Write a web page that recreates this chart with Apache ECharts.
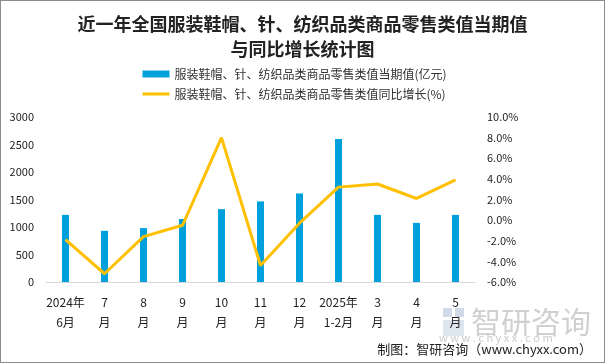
<!DOCTYPE html>
<html><head><meta charset="utf-8">
<script src="https://cdn.jsdelivr.net/npm/echarts@6/dist/echarts.min.js"></script>
<style>html,body{margin:0;padding:0;background:#fff}#c{width:605px;height:363px;box-sizing:border-box;border:1px solid #8c8c8c}</style>
</head><body><div id="c"></div>
<script>
const categories = ['2024年\n6月','7\n月','8\n月','9\n月','10\n月','11\n月','12\n月','2025年\n1-2月','3\n月','4\n月','5\n月'];
const retailValue = [1220, 930, 980, 1145, 1325, 1465, 1610, 2600, 1220, 1075, 1220];
const yoyGrowth = [-1.9, -5.2, -1.6, -0.5, 8.0, -4.4, -0.3, 3.2, 3.5, 2.1, 3.9];
const barName = '服装鞋帽、针、纺织品类商品零售类值当期值(亿元)';
const lineName = '服装鞋帽、针、纺织品类商品零售类值同比增长(%)';

const chart = echarts.init(document.getElementById('c'));
const font = 'Microsoft YaHei, "Noto Sans CJK SC", sans-serif';
chart.setOption({
  animation: false,
  textStyle: {fontFamily: font},
  title: {
    text: '近一年全国服装鞋帽、针、纺织品类商品零售类值当期值\n与同比增长统计图',
    left: 'center', top: 6,
    textStyle: {fontSize: 18, fontWeight: 'bold', color: '#222', lineHeight: 25, fontFamily: font}
  },
  legend: {
    orient: 'vertical', left: 135, top: 62, itemGap: 8,
    itemWidth: 27, itemHeight: 7,
    textStyle: {fontSize: 12, color: '#333', fontFamily: font},
    data: [{name: barName, icon: 'rect'}, {name: lineName, itemStyle: {opacity: 0}, lineStyle: {width: 3, color: '#FFC000'}}]
  },
  grid: {left: 45, right: 129, top: 116, bottom: 80},
  xAxis: {
    type: 'category', data: categories,
    axisLine: {lineStyle: {color: '#d9d9d9'}},
    axisTick: {show: false},
    axisLabel: {color: '#222', fontSize: 12, lineHeight: 20, interval: 0, margin: 10}
  },
  yAxis: [{
    type: 'value', min: 0, max: 3000, interval: 500,
    splitLine: {show: false}, axisLine: {show: false}, axisTick: {show: false},
    axisLabel: {color: '#222', fontSize: 11, margin: 12, formatter: v => String(v)}
  }, {
    type: 'value', min: -6, max: 10, interval: 2,
    splitLine: {show: false}, axisLine: {show: false}, axisTick: {show: false},
    axisLabel: {color: '#222', fontSize: 11, margin: 12, formatter: v => v.toFixed(1) + '%'}
  }],
  series: [{
    name: barName, type: 'bar', data: retailValue, barWidth: 7,
    itemStyle: {color: '#00A0DC'}
  }, {
    name: lineName, type: 'line', yAxisIndex: 1, data: yoyGrowth,
    symbol: 'none', lineStyle: {color: '#FFC000', width: 3}, itemStyle: {color: '#FFC000'}
  }],
  graphic: [
    {type: 'text', left: 470, top: 306, z: 10, style: {text: '智研咨询', fontSize: 30, fill: 'rgba(150,150,150,0.45)', fontFamily: font}},
    {type: 'group', left: 442, top: 307, z: 10, children: [
      {type: 'rect', shape: {x: 0, y: 0, width: 9, height: 9}, style: {fill: 'rgba(120,150,190,0.35)'}},
      {type: 'rect', shape: {x: 12, y: 0, width: 9, height: 9}, style: {fill: 'rgba(120,150,190,0.35)'}},
      {type: 'rect', shape: {x: 0, y: 12, width: 21, height: 16}, style: {fill: 'rgba(120,150,190,0.25)'}}
    ]},
    {type: 'text', left: 438, top: 331, z: 10, style: {text: 'w w w . c h y x x . c o m', fontSize: 11, fill: 'rgba(150,150,150,0.5)', fontFamily: font}},
    {type: 'text', right: 12, top: 342, z: 11, style: {text: '制图：智研咨询（www.chyxx.com）', fontSize: 13, fill: '#222', fontFamily: font}}
  ]
});
</script></body></html>
